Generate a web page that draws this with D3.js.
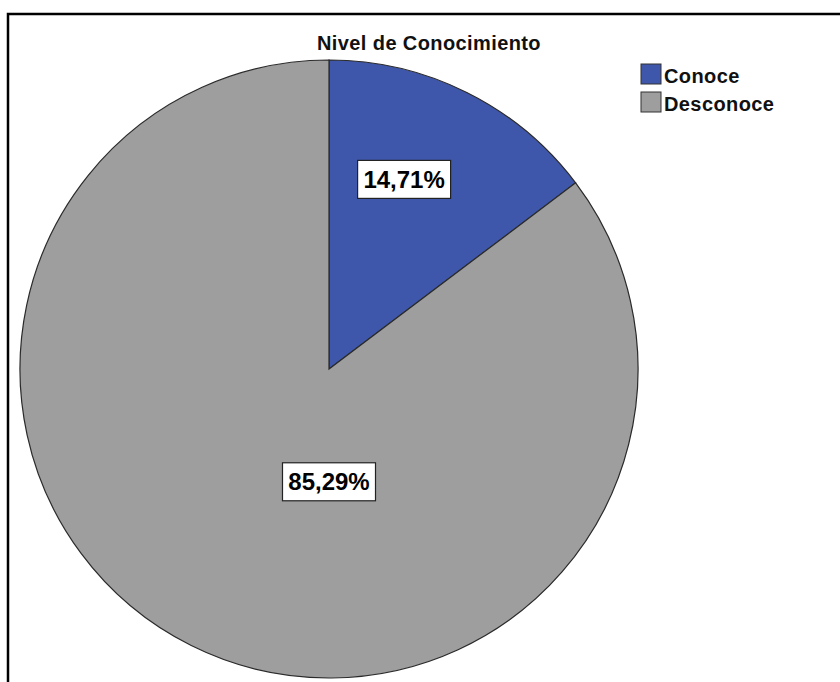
<!DOCTYPE html>
<html>
<head>
<meta charset="utf-8">
<script src="https://cdn.jsdelivr.net/npm/d3@7"></script>
<style>
	body { margin: 0; background: #fff; }
	svg { display: block; font-family: Arial, "Liberation Sans", sans-serif; }
</style>
</head>
<body>
<div id="chart"></div>
<script>
// data
let categories = ["Conoce", "Desconoce"];
let percents = [14.71, 85.29];
let labels = ["14,71%", "85,29%"];
let colors = ["#3f57aa", "#9e9e9e"];

let width = 840, height = 682;

let svg = d3.select("#chart").append("svg")
	.attr("width", width)
	.attr("height", height);

// frame (only left + top visible)
svg.append("path")
	.attr("d", "M8,700 L8,14 L860,14")
	.attr("fill", "none")
	.attr("stroke", "#000")
	.attr("stroke-width", 2.5);

svg.append("text")
	.attr("x", 429)
	.attr("y", 50)
	.attr("text-anchor", "middle")
	.attr("font-size", 20)
	.attr("font-weight", "bold")
	.attr("letter-spacing", 0.4)
	.attr("fill", "#111")
	.text("Nivel de Conocimiento");

let cx = 329, cy = 369, r = 309;

let pie = d3.pie().sort(null).value(d => d.value);
let data = categories.map((c, i) => ({key: c, value: percents[i], label: labels[i], color: colors[i]}));
let arcs = pie(data);

let arc = d3.arc().innerRadius(0).outerRadius(r);

let g = svg.append("g")
	.attr("transform", "translate(" + cx + "," + cy + ")");

g.selectAll("path.slice")
	.data(arcs)
	.enter()
	.append("path")
	.attr("class", "slice")
	.attr("d", arc)
	.attr("fill", d => d.data.color)
	.attr("stroke", "#2a2a2a")
	.attr("stroke-width", 1.2);

// label placement: small slice near its centroid, big slice straight below centre
function labelPos(d, i) {
	if (i === 0) {
		let a = (d.startAngle + d.endAngle) / 2 - 0.085;
		return [Math.sin(a) * r * 0.66, -Math.cos(a) * r * 0.66];
	}
	return [0, r * 0.365];
}

let lg = g.selectAll("g.lbl")
	.data(arcs)
	.enter()
	.append("g")
	.attr("class", "lbl")
	.attr("transform", (d, i) => "translate(" + labelPos(d, i) + ")");

lg.append("rect")
	.attr("x", -46.5)
	.attr("y", -19)
	.attr("width", 93)
	.attr("height", 38)
	.attr("fill", "#fff")
	.attr("stroke", "#222")
	.attr("stroke-width", 1.2);

lg.append("text")
	.attr("text-anchor", "middle")
	.attr("dy", "0.36em")
	.attr("font-size", 24)
	.attr("font-weight", "bold")
	.attr("fill", "#000")
	.text(d => d.data.label);

// legend
let legend = svg.append("g")
	.attr("transform", "translate(641,64)");

let items = legend.selectAll("g")
	.data(data)
	.enter()
	.append("g")
	.attr("transform", (d, i) => "translate(0," + i * 28 + ")");

items.append("rect")
	.attr("width", 20)
	.attr("height", 20)
	.attr("fill", d => d.color)
	.attr("stroke", "#333")
	.attr("stroke-width", 1);

items.append("text")
	.attr("x", 23)
	.attr("y", 18.5)
	.attr("font-size", 20)
	.attr("font-weight", "bold")
	.attr("letter-spacing", 0.4)
	.attr("fill", "#111")
	.text(d => d.key);
</script>
</body>
</html>
